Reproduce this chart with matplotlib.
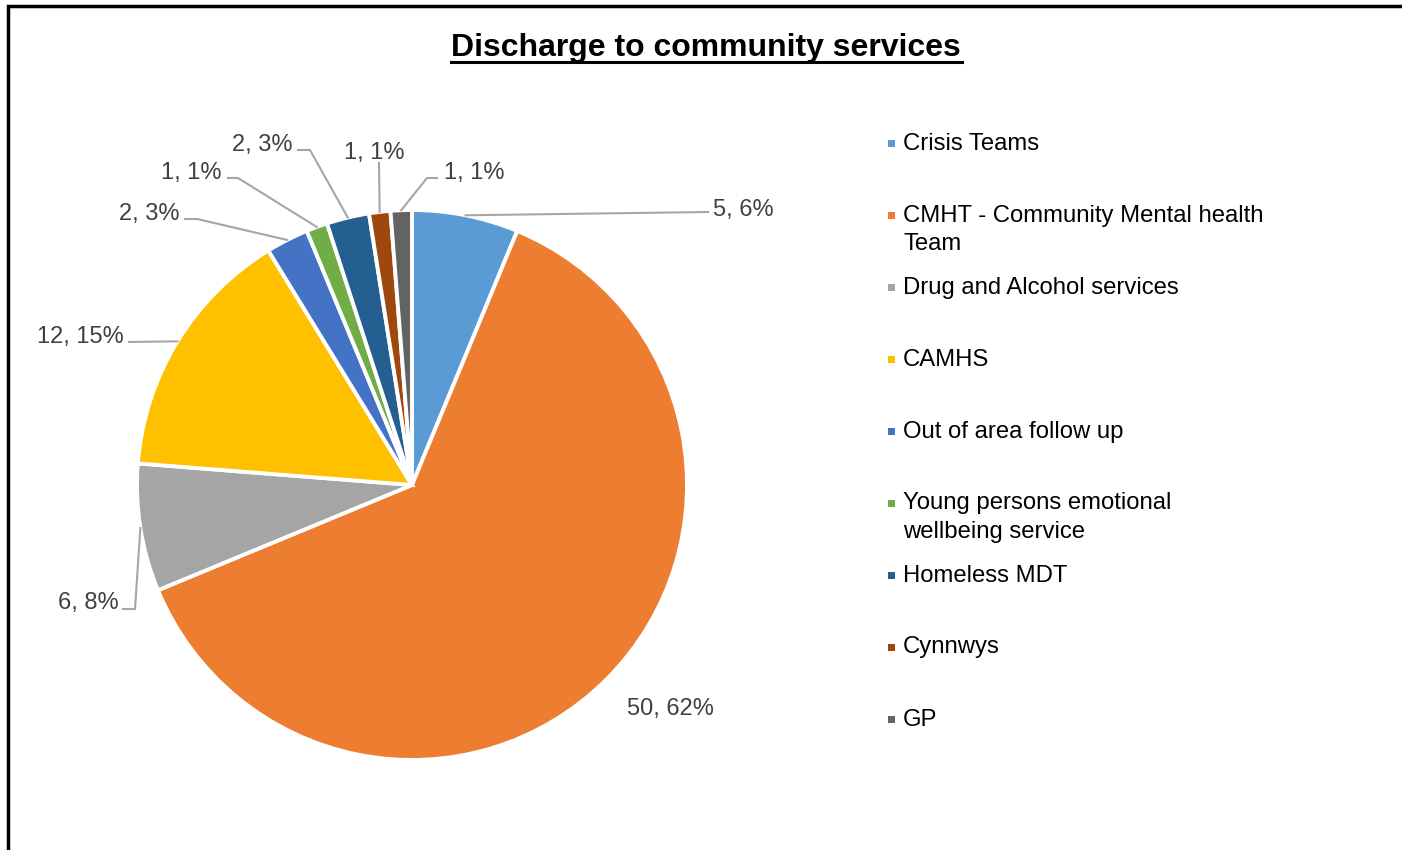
import numpy as np
import matplotlib.pyplot as plt
from matplotlib.lines import Line2D

plt.rcParams["font.family"] = ["Liberation Sans", "DejaVu Sans"]

# Discharge destinations
services = [
    "Crisis Teams",
    "CMHT - Community Mental health\nTeam",
    "Drug and Alcohol services",
    "CAMHS",
    "Out of area follow up",
    "Young persons emotional\nwellbeing service",
    "Homeless MDT",
    "Cynnwys",
    "GP",
]
counts = [5, 50, 6, 12, 2, 1, 2, 1, 1]
percents = [6, 62, 8, 15, 3, 1, 3, 1, 1]
colors = ["#5B9BD5", "#ED7D31", "#A5A5A5", "#FFC000", "#4472C4",
          "#70AD47", "#255E91", "#9E480E", "#636363"]

W, H = 1402, 850
fig = plt.figure(figsize=(W / 100, H / 100), dpi=100)
ax = fig.add_axes([0, 0, 1, 1])


def fy(y):
    # screen-style y (top down) -> axes y
    return H - y


cx, cy, r = 412, 485, 275
wedges, _ = ax.pie(counts, colors=colors, startangle=90, counterclock=False,
                   center=(cx, fy(cy)), radius=r, frame=True,
                   wedgeprops=dict(edgecolor="white", linewidth=2.8))
ax.set_xlim(0, W)
ax.set_ylim(0, H)
ax.set_aspect("equal")
ax.axis("off")

# label text position and the elbow of its leader line (None = no leader)
label_pos = [(743, 207), (670, 707), (88, 601), (80, 334), (149, 211),
             (191, 170), (262, 142), (374, 150), (474, 170)]
leader = [
    [(708, 212)],
    None,
    [(135, 609), (123, 609)],
    [(129, 342)],
    [(197, 219), (185, 219)],
    [(238, 178), (228, 178)],
    [(310, 150), (298, 150)],
    [(379, 163)],
    [(427, 178), (437, 178)],
]
for i, w in enumerate(wedges):
    mid = np.deg2rad((w.theta1 + w.theta2) / 2)
    ex = cx + r * np.cos(mid)
    ey = fy(cy) + r * np.sin(mid)
    if leader[i]:
        xs = [ex] + [p[0] for p in leader[i]]
        ys = [ey] + [fy(p[1]) for p in leader[i]]
        ax.add_line(Line2D(xs, ys, color="#A6A6A6", lw=1.5))
    tx, ty = label_pos[i]
    ax.text(tx, fy(ty) - 2.5, f"{counts[i]}, {percents[i]}%", ha="center",
            va="center", fontsize=17, color="#404040")

# legend drawn as a column of entries
for i, name in enumerate(services):
    y = 142 + 72 * i
    ax.add_patch(plt.Rectangle((888, fy(y) - 4.5), 7, 7, color=colors[i], lw=0))
    ax.text(903, fy(y) + 9.5, name, ha="left", va="top", fontsize=17.2,
            color="black", linespacing=1.38)

# title with underline
title = ax.text(706, fy(46) - 2, "Discharge to community services", ha="center",
                va="center", fontsize=23, fontweight="bold")
ax.add_line(Line2D([451, 962], [fy(62), fy(62)], color="black", lw=2.2))

# chart frame (top and left edges)
ax.add_line(Line2D([8, 8, W], [0, fy(6), fy(6)], color="black", lw=2.5,
                   solid_joinstyle="miter"))

fig.savefig("out.png", dpi=100)
